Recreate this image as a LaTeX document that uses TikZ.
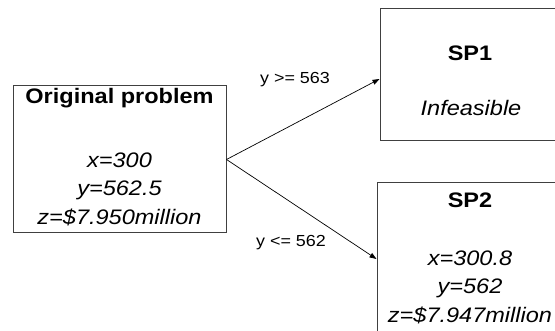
\documentclass[tikz,border=0pt]{standalone}
\usepackage{fontspec}
\setmainfont{Liberation Sans}[FakeStretch=1.12]
\usepackage{tikz}
\usetikzlibrary{arrows.meta,positioning,calc}
\definecolor{Frame}{HTML}{404040}

\begin{document}
\begin{tikzpicture}[x=1pt,y=-1pt,
    box/.style={draw=Frame,line width=1pt,inner sep=0pt},
    head/.style={font=\fontsize{21}{25}\selectfont\bfseries},
    vals/.style={align=center,font=\fontsize{21}{28.5}\selectfont\itshape},
    cond/.style={font=\fontsize{16}{18}\selectfont},
    arr/.style={-{Triangle[length=7pt,width=5pt]},line width=0.7pt,color=black}
  ]
    \useasboundingbox (0,0) rectangle (555,331);
    % boxes
    \node[box,minimum width=213pt,minimum height=147pt] (orig) at (119.5,159.5) {};
    \node[box,minimum width=190pt,minimum height=132pt] (sp1) at (475,75) {};
    \node[box,minimum width=193pt,minimum height=152pt] (sp2) at (473.5,259) {};
    % texts
    \node[head] (origtitle) at (119.5,98) {Original problem};
    \node[vals] (origvals) at (119.5,189) {x=300\\y=562.5\\z=\$7.950million};
    \node[head] (sp1title) at (470,53) {SP1};
    \node[vals] (sp1vals) at (471,108) {Infeasible};
    \node[head] (sp2title) at (470,200) {SP2};
    \node[vals] (sp2vals) at (470,287) {x=300.8\\y=562\\z=\$7.947million};
    % branches
    \draw[arr] (orig.east) -- ($(sp1.west)+(0,4)$);
    \draw[arr] (orig.east) -- (sp2.west);
    \node[cond] (up) at (295,80) {y >= 563};
    \node[cond] (down) at (291,243) {y <= 562};
  \end{tikzpicture}
\end{document}
